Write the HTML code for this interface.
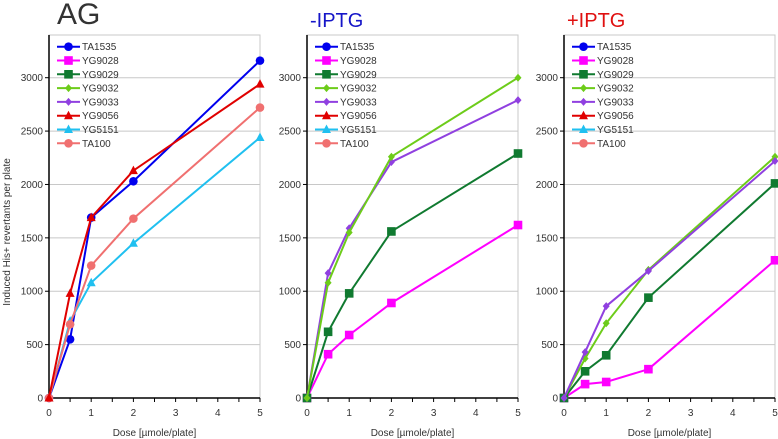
<!DOCTYPE html>
<html><head><meta charset="utf-8"><style>
body{margin:0;background:#fff;}
svg{display:block;font-family:"Liberation Sans",Arial,sans-serif;}
</style></head><body>
<svg id="chart" width="778" height="439"></svg>
<script>
const xTicks=[0,1,2,3,4,5];
const yTicks=[0,500,1000,1500,2000,2500,3000];
const doses=[0,0.5,1,2,5];
const seriesNames=["TA1535","YG9028","YG9029","YG9032","YG9033","YG9056","YG5151","TA100"];
const seriesColors=["#0000ee","#ff00ff","#107a30","#6dcc1a","#9040e0","#e00000","#20c0f0","#f07070"];
const seriesMarkers=["circle","square","square","diamond","diamond","triangle","triangle","circle"];
const panelTitles=["AG","-IPTG","+IPTG"];
const agTA1535=[0,550,1690,2030,3160];
const agYG9056=[0,980,1690,2130,2940];
const agYG5151=[0,720,1080,1450,2440];
const agTA100=[0,690,1240,1680,2720];
const minusYG9028=[0,410,590,890,1620];
const minusYG9029=[0,620,980,1560,2290];
const minusYG9032=[0,1080,1550,2260,3000];
const minusYG9033=[0,1170,1590,2210,2790];
const plusYG9028=[0,130,150,270,1290];
const plusYG9029=[0,250,400,940,2010];
const plusYG9032=[0,370,700,1200,2260];
const plusYG9033=[0,430,860,1190,2220];

const NS="http://www.w3.org/2000/svg";
const svg=document.getElementById('chart');
function mk(tag,attrs,parent){const e=document.createElementNS(NS,tag);for(const k in attrs)e.setAttribute(k,attrs[k]);(parent||svg).appendChild(e);return e;}
const panelLeft=[49,307,564];
const W=211, Y0=398, YTOP=35;
function sx(p,v){return panelLeft[p]+v/5*W;}
function sy(v){return Y0-v*(320.3/3000);}
function marker(g,type,x,y,c){
  let m;
  if(type==="circle")m=mk('circle',{cx:x,cy:y,r:4.3,fill:c},g);
  else if(type==="square")m=mk('rect',{x:x-4.3,y:y-4.3,width:8.6,height:8.6,fill:c},g);
  else if(type==="diamond")m=mk('polygon',{points:`${x},${y-4} ${x+3.5},${y} ${x},${y+4} ${x-3.5},${y}`,fill:c},g);
  else m=mk('polygon',{points:`${x},${y-5} ${x+4.5},${y+3.5} ${x-4.5},${y+3.5}`,fill:c},g);
  return m;
}
const panelData=[
  [[0,agTA1535],[6,agYG5151],[7,agTA100],[5,agYG9056]],
  [[1,minusYG9028],[2,minusYG9029],[4,minusYG9033],[3,minusYG9032]],
  [[1,plusYG9028],[2,plusYG9029],[3,plusYG9032],[4,plusYG9033]]
];
const titleCol=["#333","#1515c8","#e01010"];
const titleSize=[30,20,20];
for(let p=0;p<3;p++){
  const L=panelLeft[p];
  const g=mk('g',{});
  
  
  const t=mk('text',{x:p===0?L+8:L+3,y:p===0?24:27,'font-size':titleSize[p],fill:titleCol[p]},g);
  t.textContent=panelTitles[p];
  
  
  mk('rect',{x:L,y:YTOP,width:W,height:Y0-YTOP,fill:'none',stroke:'#c8c8c8','stroke-width':1},g);
  yTicks.forEach(v=>{
    const y=sy(v);
    if(v>0){const gl=mk('line',{x1:L,x2:L+W,y1:y,y2:y,stroke:'#c8c8c8','stroke-width':1},g);
      }
    mk('line',{x1:L-4,x2:L,y1:y,y2:y,stroke:'#000'},g);
    const tl=mk('text',{x:L-6,y:y+3.5,'font-size':10,fill:'#333','text-anchor':'end'},g);
    tl.textContent=v;
    
  });
  for(let i=0;i<=10;i++){const x=sx(p,i/2);mk('line',{x1:x,x2:x,y1:Y0,y2:Y0+4,stroke:'#000'},g);}
  xTicks.forEach(v=>{
    const tl=mk('text',{x:sx(p,v),y:416,'font-size':10,fill:'#333','text-anchor':'middle'},g);
    tl.textContent=v;
    
  });
  mk('line',{x1:L,x2:L,y1:YTOP,y2:Y0,stroke:'#000','stroke-width':1.5},g);
  mk('line',{x1:L,x2:L+W,y1:Y0,y2:Y0,stroke:'#000','stroke-width':1.5},g);
  const xl=mk('text',{x:L+W/2,y:436,'font-size':10,fill:'#333','text-anchor':'middle'},g);
  xl.textContent='Dose [µmole/plate]';
  
  // legend
  seriesNames.forEach((n,i)=>{
    const y=46.7+i*13.8;
    const lg=mk('g',{},g);
    
    mk('line',{x1:L+8,x2:L+31,y1:y,y2:y,stroke:seriesColors[i],'stroke-width':2},lg);
    marker(lg,seriesMarkers[i],L+19.5,y,seriesColors[i]);
    const tt=mk('text',{x:L+33,y:y+3.5,'font-size':10,fill:'#333'},lg);
    tt.textContent=n;
  });
  // series
  panelData[p].forEach(([si,vals])=>{
    const sg=mk('g',{},g);
    
    
    const pts=doses.map((d,k)=>sx(p,d)+','+sy(vals[k])).join(' ');
    mk('polyline',{points:pts,fill:'none',stroke:seriesColors[si],'stroke-width':2},sg);
    doses.forEach((d,k)=>{
      const m=marker(sg,seriesMarkers[si],sx(p,d),sy(vals[k]),seriesColors[si]);
      
      
    });
  });
}
const yt=mk('text',{x:0,y:0,'font-size':10,fill:'#333','text-anchor':'middle',transform:'translate(10,232) rotate(-90)'});
yt.textContent='Induced His+ revertants per plate';


</script>
</body></html>
